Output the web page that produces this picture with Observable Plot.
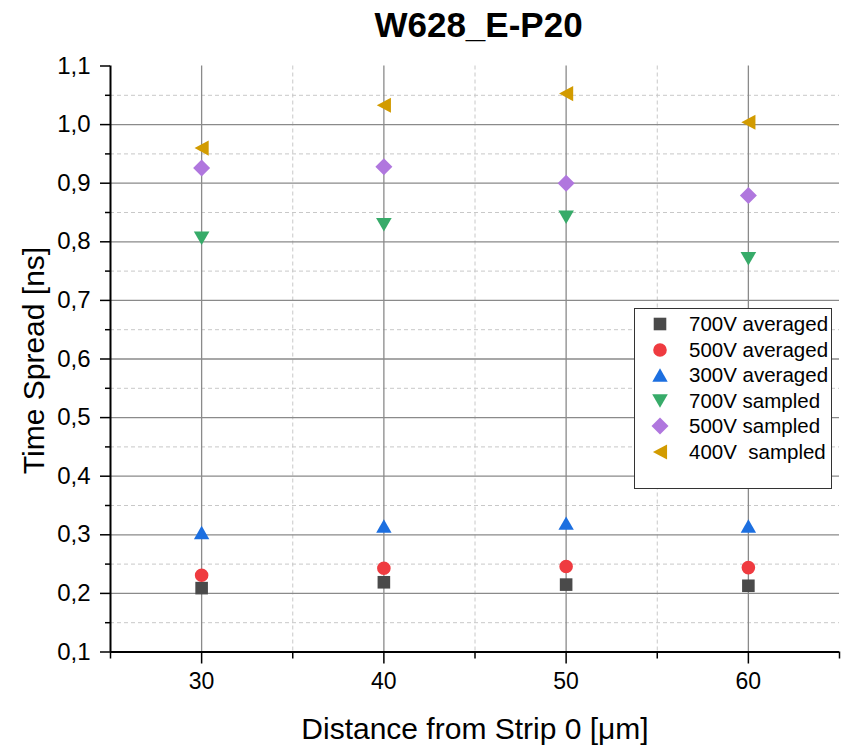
<!DOCTYPE html>
<html><head><meta charset="utf-8">
<script src="https://cdn.jsdelivr.net/npm/d3@7"></script>
<script src="https://cdn.jsdelivr.net/npm/@observablehq/plot@0.6"></script>
<style>
body{margin:0;background:#fff;}
#wrap{position:relative;width:849px;height:747px;font-family:"Liberation Sans",Arial,sans-serif;}
#legend{position:absolute;left:634px;top:308px;width:198px;height:181px;border:1px solid #333;background:#fff;box-sizing:border-box;}
.lrow{position:absolute;left:0;height:26px;line-height:26px;font-size:20.5px;color:#000;white-space:pre;}
.lrow svg{position:absolute;left:14px;top:3px;}
.lrow span{position:absolute;left:54px;top:0;}
</style></head><body><div id="wrap"></div>
<script>
const titleText = "W628_E-P20";
const xLabel = "Distance from Strip 0 [\u03bcm]";
const yLabel = "Time Spread [ns]";
const distances = [30, 40, 50, 60];
const seriesNames = ["700V averaged", "500V averaged", "300V averaged", "700V sampled", "500V sampled", "400V  sampled"];
const v700avg = [0.209, 0.219, 0.215, 0.213];
const v500avg = [0.231, 0.243, 0.246, 0.244];
const v300avg = [0.304, 0.315, 0.320, 0.315];
const v700samp = [0.806, 0.829, 0.842, 0.771];
const v500samp = [0.926, 0.928, 0.900, 0.879];
const v400samp = [0.960, 1.033, 1.053, 1.004];
const xTicks = [30, 40, 50, 60];
const xMinor = [25, 35, 45, 55, 65];
const yTicks = [0.1, 0.2, 0.3, 0.4, 0.5, 0.6, 0.7, 0.8, 0.9, 1.0, 1.1];
const yMinor = [0.15, 0.25, 0.35, 0.45, 0.55, 0.65, 0.75, 0.85, 0.95, 1.05];

const colors = ["#4a4a4a", "#ef3b40", "#1c6fe0", "#37ab69", "#b077de", "#d29b00"];
const seriesValues = [v700avg, v500avg, v300avg, v700samp, v500samp, v400samp];

// symbol shapes (r = half-size in px)
const shapes = [
  (c, r) => { c.rect(-r, -r, 2 * r, 2 * r); },
  (c, r) => { c.moveTo(r, 0); c.arc(0, 0, r, 0, 2 * Math.PI); },
  (c, r) => { c.moveTo(0, -0.87 * r); c.lineTo(r, 0.87 * r); c.lineTo(-r, 0.87 * r); c.closePath(); },
  (c, r) => { c.moveTo(0, 0.87 * r); c.lineTo(r, -0.87 * r); c.lineTo(-r, -0.87 * r); c.closePath(); },
  (c, r) => { c.moveTo(0, -r); c.lineTo(r, 0); c.lineTo(0, r); c.lineTo(-r, 0); c.closePath(); },
  (c, r) => { c.moveTo(-0.93 * r, 0); c.lineTo(0.93 * r, -r); c.lineTo(0.93 * r, r); c.closePath(); }
];
const radii = [6.3, 6.8, 7.7, 7.8, 8.5, 7.6];
const symbols = shapes.map(f => ({draw(ctx, size) { f(ctx, Math.sqrt(size / Math.PI)); }}));

const fmt = d => d.toFixed(1).replace(".", ",");
const font = "'Liberation Sans', Arial, sans-serif";

const dotMarks = seriesValues.map((vals, k) =>
  Plot.dot(distances, {x: d => d, y: (d, i) => vals[i], symbol: symbols[k], r: radii[k], fill: colors[k], stroke: "none"})
);

const plot = Plot.plot({
  width: 849, height: 747,
  marginTop: 65.5, marginBottom: 95.5, marginLeft: 110, marginRight: 10,
  x: {domain: [25, 65]},
  y: {domain: [0.1, 1.1]},
  style: {fontFamily: font, background: "white", color: "black"},
  marks: [
    Plot.gridX(xMinor.slice(1, -1), {stroke: "#c8c8c8", strokeOpacity: 1, strokeWidth: 1, strokeDasharray: "4,3"}),
    Plot.gridY(yMinor, {stroke: "#c8c8c8", strokeOpacity: 1, strokeWidth: 1, strokeDasharray: "4,3"}),
    Plot.gridX(xTicks, {stroke: "#8a8a8a", strokeOpacity: 1, strokeWidth: 1.3}),
    Plot.gridY(yTicks.slice(1, -1), {stroke: "#8a8a8a", strokeOpacity: 1, strokeWidth: 1.3}),
    Plot.axisX({ticks: xTicks, tickSize: 12, tickPadding: 9, tickFormat: d => String(d), fontSize: 23, label: null, strokeWidth: 1.5}),
    Plot.axisX({ticks: xMinor, tickSize: 7, tickFormat: () => "", label: null, strokeWidth: 1.5}),
    Plot.axisY({ticks: yTicks, tickSize: 10, tickPadding: 10, tickFormat: fmt, fontSize: 24, label: null, strokeWidth: 1.5}),
    Plot.axisY({ticks: yMinor, tickSize: 5, tickFormat: () => "", label: null, strokeWidth: 1.5}),
    Plot.ruleX([25], {stroke: "black", strokeWidth: 2}),
    Plot.ruleY([0.1], {stroke: "black", strokeWidth: 2}),
    ...dotMarks,
    Plot.text([titleText], {text: d => d, frameAnchor: "top", textAnchor: "middle", dx: 3.5, dy: -40.5, fontSize: 35, fontWeight: "bold", lineAnchor: "middle"}),
    Plot.text([xLabel], {text: d => d, frameAnchor: "bottom", textAnchor: "middle", dx: 0, dy: 77, fontSize: 30, lineAnchor: "middle"}),
    Plot.text([yLabel], {text: d => d, frameAnchor: "left", textAnchor: "middle", rotate: -90, dx: -76.6, dy: 1.5, fontSize: 30, lineAnchor: "middle"})
  ]
});
const wrap = document.getElementById("wrap");
wrap.appendChild(plot);

// legend
const legend = document.createElement("div");
legend.id = "legend";
seriesNames.forEach((name, k) => {
  const row = document.createElement("div");
  row.className = "lrow";
  row.style.top = (2 + k * 25.5) + "px";
  const p = d3.path();
  shapes[k](p, radii[k]);
  row.innerHTML = `<svg width="22" height="20" viewBox="-11 -10 22 20"><path d="${p.toString()}" fill="${colors[k]}"/></svg><span>${name}</span>`;
  legend.appendChild(row);
});
wrap.appendChild(legend);
</script></body></html>
